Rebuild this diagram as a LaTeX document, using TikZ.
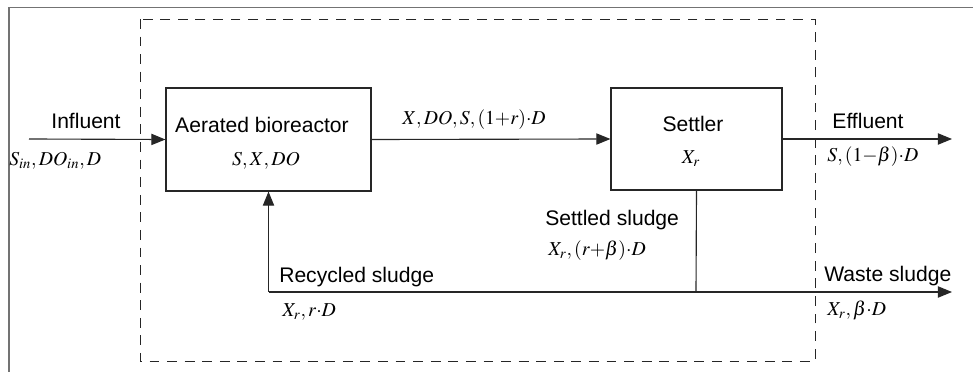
\documentclass[tikz,border=0pt]{standalone}
\usepackage{mathptmx}
\usepackage[no-math]{fontspec}
\setmainfont{Liberation Sans}
\usetikzlibrary{%
  positioning
 ,arrows.meta
 ,calc
}
\tikzstyle{plant}=[x=0.025cm,y=-0.025cm,font=\fontsize{15}{18}\selectfont]
\tikzstyle{unit}=[draw=black!85,line width=0.8pt,inner sep=0pt]
\tikzstyle{flow}=[-{Triangle[length=10pt,width=8pt]},draw=black!85,line width=0.8pt]
\tikzstyle{pipe}=[draw=black!85,line width=0.8pt]
\tikzstyle{lbl}=[inner sep=0pt,anchor=base]
\tikzstyle{var}=[inner sep=0pt,anchor=base west,font=\fontsize{14}{16}\selectfont]

\begin{document}
\begin{tikzpicture}[plant]
  \useasboundingbox (0,0) rectangle (973,372);
  % frame and control volume
  \draw[black!55,line width=0.8pt] (9,372) -- (9,7.5) -- (973,7.5);
  \draw[black!85,line width=0.6pt,dash pattern=on 7pt off 5.5pt] (140,19) rectangle (815,361);
%
  \node[unit,minimum width=5.125cm,minimum height=2.575cm] (reactor) at (268.5,139.5) {};
  \node[unit,minimum width=4.275cm,minimum height=2.55cm]  (settler) at (696.5,139)   {};
  \node[lbl] (reactor_t) at (262,133) {Aerated bioreactor};
  \node[lbl,font=\fontsize{14}{16}\selectfont] (reactor_v) at (266,166) {$S,X,DO$};
  \node[lbl] (settler_t) at (693,132) {Settler};
  \node[lbl,font=\fontsize{14}{16}\selectfont] (settler_v) at (691,164) {$X_r$};
%
  \coordinate (inflow)  at (29,139);
  \coordinate (outflow) at (952,139);
  \coordinate (split)   at (696,292);
  \coordinate (waste)   at (952,292);
  \coordinate (recycle) at (reactor.south |- split);
%
  \path[flow] (inflow) -- (reactor.west);
  \path[flow] (reactor.east) -- (settler.west);
  \path[flow] (settler.east) -- (outflow);
  \path[pipe] (settler.south) -- (split);
  \path[flow] (recycle) -- (waste);
  \path[flow] (recycle) -- (reactor.south);
%
  \node[lbl] (influent) at (86,129) {Influent};
  \node[var] (influent_v) at (9,166) {$S_{in},DO_{in},D$};
  \node[var] (mixed_v) at (402,125) {$X,DO,S,(1{+}r){\cdot}D$};
  \node[lbl] (effluent) at (868,129) {Effluent};
  \node[var] (effluent_v) at (827,162) {$S,(1{-}\beta){\cdot}D$};
  \node[lbl,anchor=base west] (settled) at (545,226) {Settled sludge};
  \node[var] (settled_v) at (548,256) {$X_r,(r{+}\beta){\cdot}D$};
  \node[lbl,anchor=base west] (recycled) at (279,283) {Recycled sludge};
  \node[var] (recycled_v) at (282,317) {$X_r,r{\cdot}D$};
  \node[lbl,anchor=base west] (wasted) at (824,282) {Waste sludge};
  \node[var] (wasted_v) at (827,316) {$X_r,\beta{\cdot}D$};
\end{tikzpicture}
\end{document}
